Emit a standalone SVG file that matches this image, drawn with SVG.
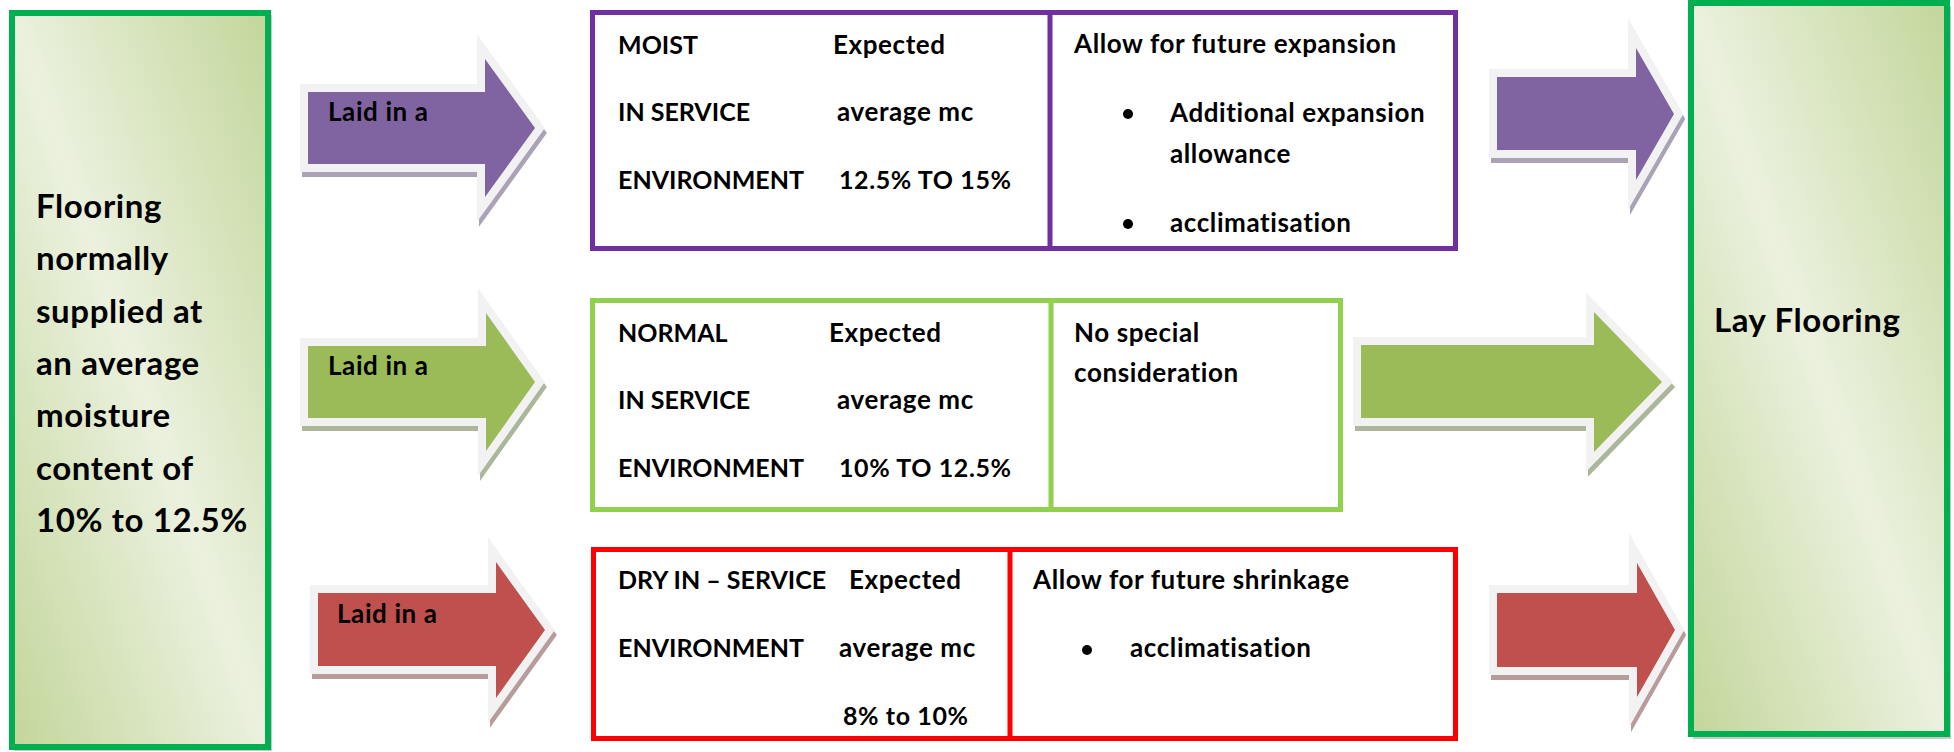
<svg xmlns="http://www.w3.org/2000/svg" width="1954" height="752" viewBox="0 0 1954 752">
<defs>
<linearGradient id="boxGrad" x1="0" y1="1" x2="1" y2="0">
<stop offset="0" stop-color="#c3d69b"/>
<stop offset="0.5" stop-color="#ebf1de"/>
<stop offset="1" stop-color="#c3d69b"/>
</linearGradient>
<style>
.t{font-family:Lato,"Open Sans","Liberation Sans",sans-serif;font-weight:bold;fill:#000}
.big{font-size:33px;letter-spacing:0.6px}
.cap{font-size:25px}
.lc{font-size:26px;letter-spacing:0.6px}
.num{font-size:25px;letter-spacing:0.6px}
.box{fill:url(#boxGrad);stroke:#00b050;stroke-width:6}
.boxsh{fill:#c8c8c8}
.ol{fill:none;stroke:#f2f2f2;stroke-width:16;stroke-linejoin:miter;stroke-miterlimit:6}
.sh{stroke-width:16;stroke-linejoin:miter;stroke-miterlimit:6}
.tbl{fill:#fff;stroke-width:5}
.bul{fill:#000}
</style>
</defs>
<rect width="1954" height="752" fill="#fff"/>

<g id="supply-box">
<rect class="boxsh" x="14" y="15" width="258" height="736"/>
<rect class="box" x="12" y="13" width="256" height="734"/>
<text class="t big" x="36" y="218">Flooring</text>
<text class="t big" x="36" y="270">normally</text>
<text class="t big" x="36" y="323">supplied at</text>
<text class="t big" x="36" y="375">an average</text>
<text class="t big" x="36" y="427">moisture</text>
<text class="t big" x="36" y="480">content of</text>
<text class="t big" x="36" y="532">10% to 12.5%</text>
</g>

<g id="lay-box">
<rect class="boxsh" x="1693" y="6" width="258" height="733"/>
<rect class="box" x="1691" y="3" width="256" height="731"/>
<text class="t big" x="1714" y="332">Lay Flooring</text>
</g>

<g id="connectors">
<g id="arrow-moist-in">
<polygon class="sh" fill="#aaa2b6" stroke="#aaa2b6" transform="translate(2,5)" points="308,92 485,92 485,59 535,128 485,197 485,164 308,164"/>
<polygon class="ol" points="308,92 485,92 485,59 535,128 485,197 485,164 308,164"/>
<polygon fill="#8064a2" points="308,92 485,92 485,59 535,128 485,197 485,164 308,164"/>
<text class="t lc" x="328" y="121">Laid in a</text>
</g>
<g id="arrow-normal-in">
<polygon class="sh" fill="#abb69b" stroke="#abb69b" transform="translate(2,5)" points="308,346 486,346 486,313 535,382 486,451 486,418 308,418"/>
<polygon class="ol" points="308,346 486,346 486,313 535,382 486,451 486,418 308,418"/>
<polygon fill="#9bbb59" points="308,346 486,346 486,313 535,382 486,451 486,418 308,418"/>
<text class="t lc" x="328" y="375">Laid in a</text>
</g>
<g id="arrow-dry-in">
<polygon class="sh" fill="#b89c9c" stroke="#b89c9c" transform="translate(2,5)" points="318,593 496,593 496,562 545,630 496,698 496,666 318,666"/>
<polygon class="ol" points="318,593 496,593 496,562 545,630 496,698 496,666 318,666"/>
<polygon fill="#c0504d" points="318,593 496,593 496,562 545,630 496,698 496,666 318,666"/>
<text class="t lc" x="337" y="623">Laid in a</text>
</g>
<g id="arrow-moist-out">
<polygon class="sh" fill="#aaa2b6" stroke="#aaa2b6" transform="translate(2,5)" points="1497,77 1636,77 1636,48 1674,114 1636,180 1636,150 1497,150"/>
<polygon class="ol" points="1497,77 1636,77 1636,48 1674,114 1636,180 1636,150 1497,150"/>
<polygon fill="#8064a2" points="1497,77 1636,77 1636,48 1674,114 1636,180 1636,150 1497,150"/>
</g>
<g id="arrow-normal-out">
<polygon class="sh" fill="#abb69b" stroke="#abb69b" transform="translate(2,5)" points="1361,345 1594,345 1594,312 1662,382 1594,452 1594,418 1361,418"/>
<polygon class="ol" points="1361,345 1594,345 1594,312 1662,382 1594,452 1594,418 1361,418"/>
<polygon fill="#9bbb59" points="1361,345 1594,345 1594,312 1662,382 1594,452 1594,418 1361,418"/>
</g>
<g id="arrow-dry-out">
<polygon class="sh" fill="#b89c9c" stroke="#b89c9c" transform="translate(2,5)" points="1497,593 1637,593 1637,563 1675,630 1637,697 1637,667 1497,667"/>
<polygon class="ol" points="1497,593 1637,593 1637,563 1675,630 1637,697 1637,667 1497,667"/>
<polygon fill="#c0504d" points="1497,593 1637,593 1637,563 1675,630 1637,697 1637,667 1497,667"/>
</g>
</g>

<g id="moist-table">
<rect class="tbl" stroke="#7030a0" x="592.5" y="12.5" width="863" height="236"/>
<line x1="1050" y1="12.5" x2="1050" y2="248.5" stroke="#7030a0" stroke-width="5"/>
<text class="t cap" x="618" y="54">MOIST</text>
<text class="t lc" x="833" y="54">Expected</text>
<text class="t cap" x="618" y="121">IN SERVICE</text>
<text class="t lc" x="837" y="121">average mc</text>
<text class="t cap" x="618" y="189">ENVIRONMENT</text>
<text class="t num" x="839" y="189">12.5% TO 15%</text>
<text class="t lc" x="1074" y="53">Allow for future expansion</text>
<circle class="bul" cx="1128" cy="114" r="5"/>
<text class="t lc" x="1170" y="122">Additional expansion</text>
<text class="t lc" x="1170" y="163">allowance</text>
<circle class="bul" cx="1128" cy="224" r="5"/>
<text class="t lc" x="1170" y="232">acclimatisation</text>
</g>

<g id="normal-table">
<rect class="tbl" stroke="#92d050" x="592.5" y="300.5" width="748" height="209"/>
<line x1="1051" y1="300.5" x2="1051" y2="509.5" stroke="#92d050" stroke-width="5"/>
<text class="t cap" x="618" y="342">NORMAL</text>
<text class="t lc" x="829" y="342">Expected</text>
<text class="t cap" x="618" y="409">IN SERVICE</text>
<text class="t lc" x="837" y="409">average mc</text>
<text class="t cap" x="618" y="477">ENVIRONMENT</text>
<text class="t num" x="839" y="477">10% TO 12.5%</text>
<text class="t lc" x="1074" y="342">No special</text>
<text class="t lc" x="1074" y="382">consideration</text>
</g>

<g id="dry-table">
<rect class="tbl" stroke="#ff0000" x="593.5" y="549.5" width="862" height="189"/>
<line x1="1010" y1="549.5" x2="1010" y2="738.5" stroke="#ff0000" stroke-width="5"/>
<text class="t cap" x="618" y="589">DRY IN – SERVICE</text>
<text class="t lc" x="849" y="589">Expected</text>
<text class="t cap" x="618" y="657">ENVIRONMENT</text>
<text class="t lc" x="839" y="657">average mc</text>
<text class="t num" x="843" y="725">8% to 10%</text>
<text class="t lc" x="1033" y="589">Allow for future shrinkage</text>
<circle class="bul" cx="1087" cy="650" r="5"/>
<text class="t lc" x="1130" y="657">acclimatisation</text>
</g>
</svg>
